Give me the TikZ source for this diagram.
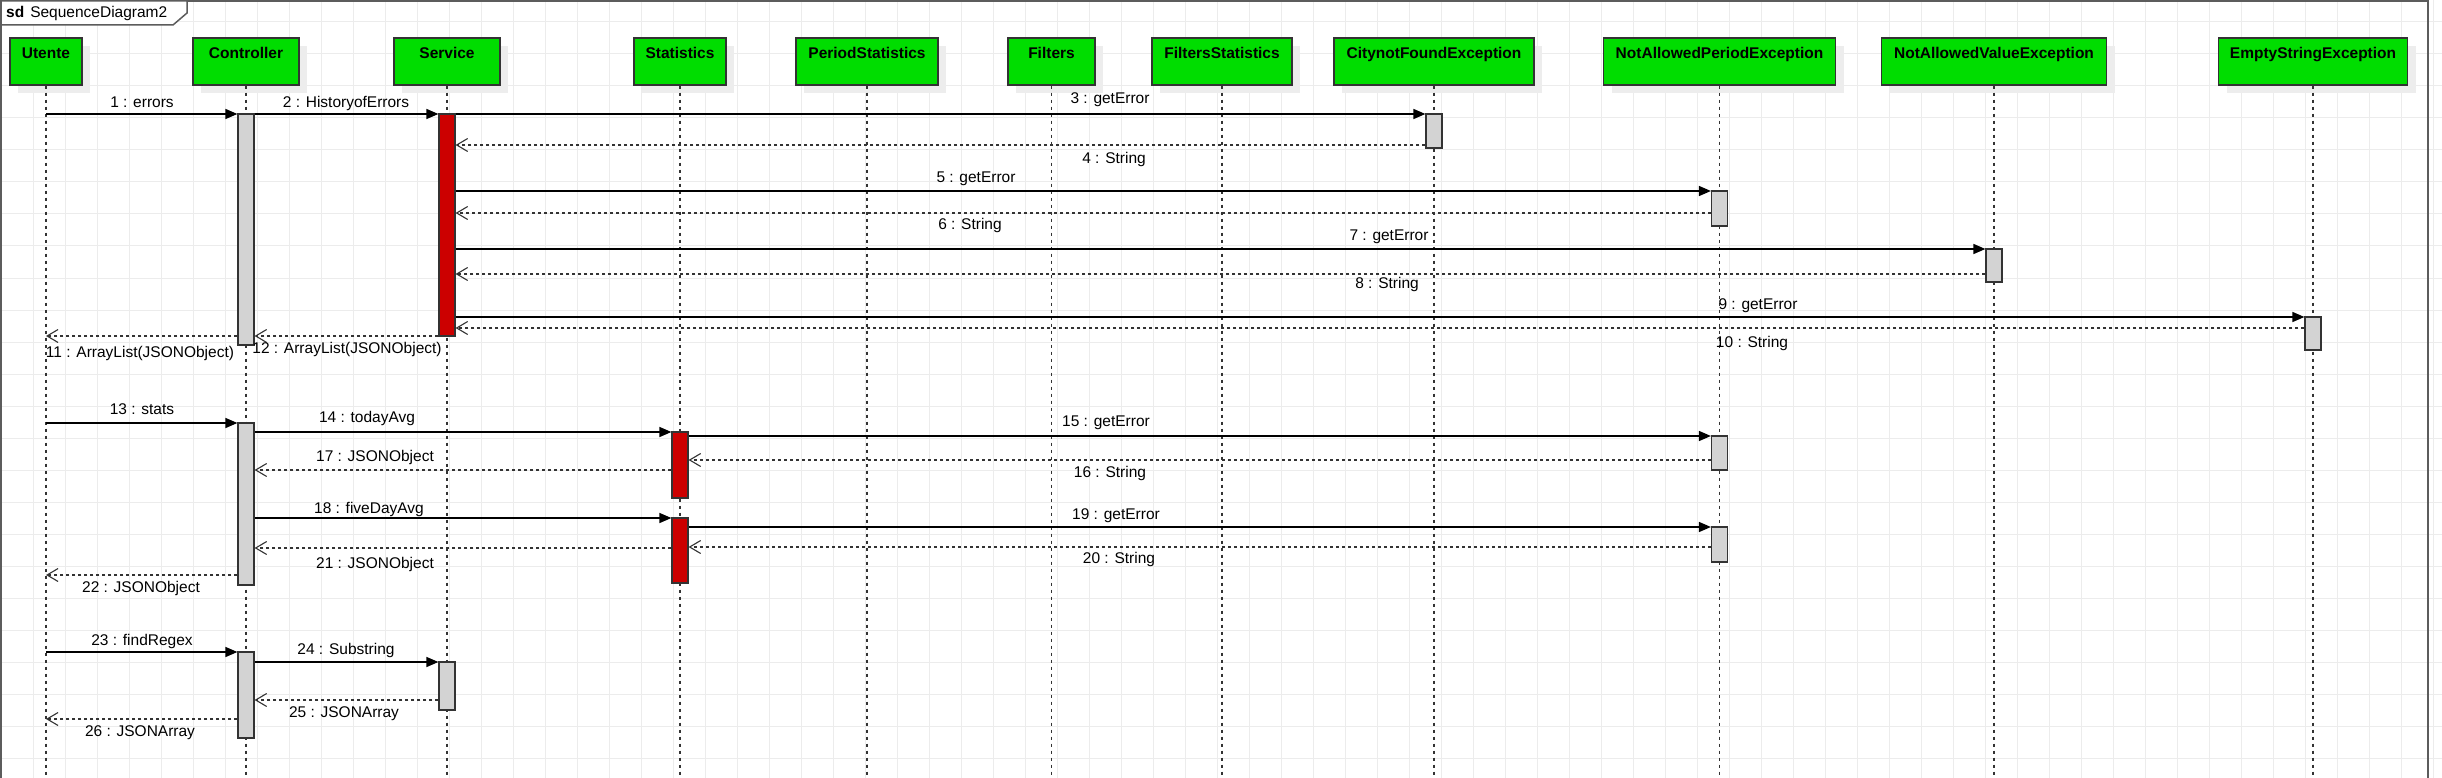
\documentclass[tikz,border=0pt]{standalone}
\usepackage{fontspec}
\setmainfont{Liberation Sans}
\usetikzlibrary{arrows.meta,shadows}
\definecolor{hgreen}{HTML}{00DD00}
\definecolor{actred}{HTML}{CC0000}
\definecolor{actgray}{HTML}{D3D3D3}
\definecolor{bordc}{HTML}{333333}
\definecolor{gridc}{HTML}{ECECEC}
\definecolor{shadc}{HTML}{EDEDED}
\newcommand{\myact}[5]{\node[#1,minimum height={(#4-#3)*1pt}] (#5) at (#2,{(#3+#4)/2}) {};}
\begin{document}
\begin{tikzpicture}[x=1pt,y=-1pt,
  font=\fontsize{15.5}{18}\selectfont,
  gridline/.style={draw=gridc,line width=1pt},
  framel/.style={draw=bordc!80,line width=1.5pt},
  head/.style={draw=bordc,fill=hgreen,line width=1.2pt,minimum height=47pt,inner sep=0pt,
    text height=11pt,text depth=17pt,font=\fontsize{15.5}{18}\selectfont\bfseries,
    drop shadow={shadow xshift=8pt,shadow yshift=-8pt,fill=shadc,opacity=1}},
  life/.style={draw=bordc,line width=1.3pt,dash pattern=on 3.5pt off 3.5pt},
  actg/.style={draw=bordc,fill=actgray,line width=1.2pt,minimum width=16pt,inner sep=0pt},
  actr/.style={draw=bordc,fill=actred,line width=1.2pt,minimum width=16pt,inner sep=0pt},
  call/.style={draw=black,line width=1.4pt,-{Triangle[length=12pt,width=10pt]}},
  ret/.style={draw=bordc,line width=1.2pt,dash pattern=on 3pt off 3pt,
    -{Straight Barb[length=11pt,width=13pt,line width=1.1pt]}},
  lbl/.style={anchor=base,inner sep=0pt}]
\useasboundingbox (0,0) rectangle (2442,778);
\fill[white] (0,0) rectangle (2442,778);
% grid
\foreach \i in {0,...,76} \draw[gridline] ({1+32*\i},0) -- ({1+32*\i},778);
\foreach \j in {0,...,23} \draw[gridline] (0,{22+32*\j}) -- (2442,{22+32*\j});
% frame
\draw[framel] (1,800) -- (1,1) -- (2428,1) -- (2428,800);
\draw[framel,fill=white] (1,1) -- (187,1) -- (187,13) -- (173,25) -- (1,25) -- cycle;
\node[anchor=base west,inner sep=0pt] (tab) at (6,17.5) {\textbf{sd}\hspace{6pt}SequenceDiagram2};
% heads
\node[head,minimum width=72pt]  (hU)  at (46,61.5)   {Utente};
\node[head,minimum width=106pt] (hC)  at (246,61.5)  {Controller};
\node[head,minimum width=106pt] (hS)  at (447,61.5)  {Service};
\node[head,minimum width=92pt]  (hSt) at (680,61.5)  {Statistics};
\node[head,minimum width=142pt] (hPS) at (867,61.5)  {PeriodStatistics};
\node[head,minimum width=87pt]  (hF)  at (1051.5,61.5) {Filters};
\node[head,minimum width=140pt] (hFS) at (1222,61.5) {FiltersStatistics};
\node[head,minimum width=200pt] (hCN) at (1434,61.5) {CitynotFoundException};
\node[head,minimum width=232pt] (hNP) at (1719.5,61.5) {NotAllowedPeriodException};
\node[head,minimum width=225pt] (hNV) at (1994,61.5) {NotAllowedValueException};
\node[head,minimum width=189pt] (hES) at (2313,61.5) {EmptyStringException};
% lifelines
\foreach \h in {hU,hC,hS,hSt,hPS,hF,hFS,hCN,hNP,hNV,hES}
  \draw[life] (\h.south) -- (\h.south |- 0,780);
% activations
\myact{actg}{246}{114}{345}{c1}
\myact{actr}{447}{114}{336}{s1}
\myact{actg}{1434}{114}{148}{cn1}
\myact{actg}{1719.5}{191}{226}{np1}
\myact{actg}{1994}{249}{282}{nv1}
\myact{actg}{2313}{317}{350}{es1}
\myact{actg}{246}{423}{585}{c2}
\myact{actr}{680}{432}{498}{st1}
\myact{actg}{1719.5}{436}{470}{np2}
\myact{actr}{680}{518}{583}{st2}
\myact{actg}{1719.5}{527}{562}{np3}
\myact{actg}{246}{652}{738}{c3}
\myact{actg}{447}{662}{710}{s2}
% block 1
\draw[call] (hU |- 0,114) -- (c1.west |- 0,114);
\draw[call] (c1.east |- 0,114) -- (s1.west |- 0,114);
\draw[call] (s1.east |- 0,114) -- (cn1.west |- 0,114);
\draw[ret] (cn1.west |- 0,145) -- (s1.east |- 0,145);
\draw[call] (s1.east |- 0,191) -- (np1.west |- 0,191);
\draw[ret] (np1.west |- 0,213) -- (s1.east |- 0,213);
\draw[call] (s1.east |- 0,249) -- (nv1.west |- 0,249);
\draw[ret] (nv1.west |- 0,274) -- (s1.east |- 0,274);
\draw[call] (s1.east |- 0,317) -- (es1.west |- 0,317);
\draw[ret] (es1.west |- 0,328) -- (s1.east |- 0,328);
\draw[ret] (c1.west |- 0,336) -- (hU |- 0,336);
\draw[ret] (s1.west |- 0,336) -- (c1.east |- 0,336);
% block 2
\draw[call] (hU |- 0,423) -- (c2.west |- 0,423);
\draw[call] (c2.east |- 0,432) -- (st1.west |- 0,432);
\draw[call] (st1.east |- 0,436) -- (np2.west |- 0,436);
\draw[ret] (np2.west |- 0,460) -- (st1.east |- 0,460);
\draw[ret] (st1.west |- 0,470) -- (c2.east |- 0,470);
\draw[call] (c2.east |- 0,518) -- (st2.west |- 0,518);
\draw[call] (st2.east |- 0,527) -- (np3.west |- 0,527);
\draw[ret] (np3.west |- 0,547) -- (st2.east |- 0,547);
\draw[ret] (st2.west |- 0,548) -- (c2.east |- 0,548);
\draw[ret] (c2.west |- 0,575) -- (hU |- 0,575);
% block 3
\draw[call] (hU |- 0,652) -- (c3.west |- 0,652);
\draw[call] (c3.east |- 0,662) -- (s2.west |- 0,662);
\draw[ret] (s2.west |- 0,700) -- (c3.east |- 0,700);
\draw[ret] (c3.west |- 0,719) -- (hU |- 0,719);
% labels
\node[lbl] (l1)  at (142,107.5)  {1 : errors};
\node[lbl] (l2)  at (346,107.5)  {2 : HistoryofErrors};
\node[lbl] (l3)  at (1110,103.5) {3 : getError};
\node[lbl] (l4)  at (1114,163.5) {4 : String};
\node[lbl] (l5)  at (976,182.5)  {5 : getError};
\node[lbl] (l6)  at (970,229.5)  {6 : String};
\node[lbl] (l7)  at (1389,240.5) {7 : getError};
\node[lbl] (l8)  at (1387,288.5) {8 : String};
\node[lbl] (l9)  at (1758,309.5) {9 : getError};
\node[lbl] (l10) at (1752,347.5) {10 : String};
\node[lbl] (l11) at (140,357.5)  {11 : ArrayList(JSONObject)};
\node[lbl] (l12) at (347,353.5)  {12 : ArrayList(JSONObject)};
\node[lbl] (l13) at (142,414.5)  {13 : stats};
\node[lbl] (l14) at (367,422.5)  {14 : todayAvg};
\node[lbl] (l15) at (1106,426.5) {15 : getError};
\node[lbl] (l16) at (1110,477.5) {16 : String};
\node[lbl] (l17) at (375,461.5)  {17 : JSONObject};
\node[lbl] (l18) at (369,513.5)  {18 : fiveDayAvg};
\node[lbl] (l19) at (1116,519.5) {19 : getError};
\node[lbl] (l20) at (1119,563.5) {20 : String};
\node[lbl] (l21) at (375,568.5)  {21 : JSONObject};
\node[lbl] (l22) at (141,592.5)  {22 : JSONObject};
\node[lbl] (l23) at (142,645.5)  {23 : findRegex};
\node[lbl] (l24) at (346,654.5)  {24 : Substring};
\node[lbl] (l25) at (344,717.5)  {25 : JSONArray};
\node[lbl] (l26) at (140,736.5)  {26 : JSONArray};
\end{tikzpicture}
\end{document}
